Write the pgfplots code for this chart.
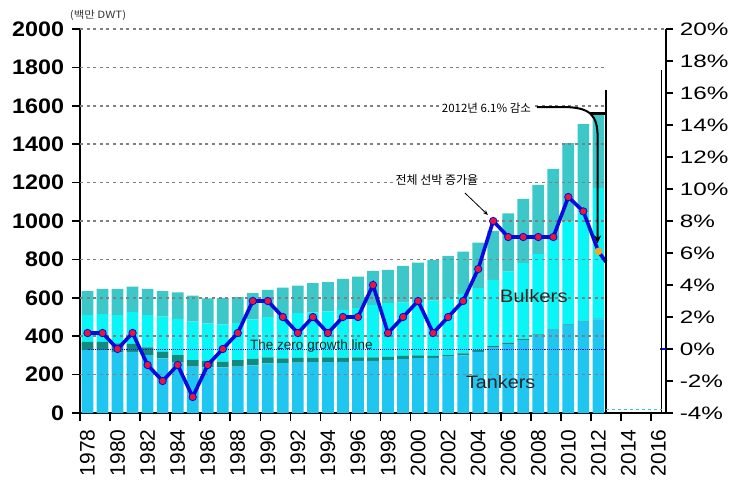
\documentclass[border=0pt]{standalone}
\usepackage{fontspec}
\setmainfont{Liberation Sans}
\newfontfamily\kr{Noto Sans CJK KR}
\usepackage{pgfplots}
\pgfplotsset{compat=1.18}
\usepackage{pgfplotstable}
\usetikzlibrary{arrows.meta}

\definecolor{tank}{HTML}{1EC6F0}
\definecolor{comb}{HTML}{138A80}
\definecolor{bulk}{HTML}{0AF5F5}
\definecolor{other}{HTML}{3CC8C8}
\definecolor{lineblue}{HTML}{0A0ADC}
\definecolor{mk}{HTML}{E8163C}
\definecolor{orng}{HTML}{F5A623}
\definecolor{gridgray}{HTML}{808080}

\pgfplotstableread{
year T C B O
1978 328 43 139 125
1979 328 43 144 131
1980 319 44 147 136
1981 319 41 165 133
1982 302 40 168 136
1983 285 34 183 133
1984 262 40 188 138
1985 241 35 200 135
1986 238 34 193 132
1987 238 29 195 138
1988 241 35 192 135
1989 248 34 205 138
1990 259 31 210 141
1991 260 25 225 143
1992 262 25 233 143
1993 265 24 235 153
1994 265 25 239 153
1995 266 23 248 161
1996 271 19 256 164
1997 272 18 273 177
1998 275 17 280 173
1999 281 16 278 191
2000 286 14 278 205
2001 287 10 288 212
2002 293 9 298 219
2003 300 10 310 220
2004 318 9 324 236
2005 340 8 345 255
2006 360 6 370 304
2007 380 5 395 335
2008 406 4 418 360
2009 434 3 463 371
2010 459 3 535 408
2011 476 3 566 460
2012 487 3 683 393
}\fleet

\pgfplotstableread{
year g
1978 1
1979 1
1980 0
1981 1
1982 -1
1983 -2
1984 -1
1985 -3
1986 -1
1987 0
1988 1
1989 3
1990 3
1991 2
1992 1
1993 2
1994 1
1995 2
1996 2
1997 4
1998 1
1999 2
2000 3
2001 1
2002 2
2003 3
2004 5
2005 8
2006 7
2007 7
2008 7
2009 7
2010 9.5
2011 8.6
}\growth

\begin{document}
\begin{tikzpicture}
\begin{axis}[
  scale only axis, width=586pt, height=384pt,
  xmin=1977.5, xmax=2016.5, ymin=0, ymax=2000,
  axis x line=bottom, axis y line=left,
  axis line style={-, line width=2pt, black},
  tick align=outside, major tick length=8pt,
  tick style={black, line width=1.6pt},
  xtick={1977.5,1979.5,1981.5,1983.5,1985.5,1987.5,1989.5,1991.5,1993.5,1995.5,1997.5,1999.5,2001.5,2003.5,2005.5,2007.5,2009.5,2011.5,2013.5,2015.5},
  xticklabels={},
  extra x ticks={1978,1980,1982,1984,1986,1988,1990,1992,1994,1996,1998,2000,2002,2004,2006,2008,2010,2012,2014,2016},
  extra x tick labels={1978,1980,1982,1984,1986,1988,1990,1992,1994,1996,1998,2000,2002,2004,2006,2008,2010,2012,2014,2016},
  extra x tick style={tick style={draw=none}},
  xticklabel shift=5pt,
  xticklabel style={rotate=90, anchor=east, font=\fontsize{21}{21}\selectfont},
  ytick={0,200,400,600,800,1000,1200,1400,1600,1800,2000},
  yticklabels={0,200,400,600,800,1000,1200,1400,1600,1800,2000},
  yticklabel shift=4pt,
  yticklabel style={font=\fontsize{21}{21}\selectfont\bfseries, xscale=1.11},
  ybar stacked, bar width=11.7pt,
  clip=false,
]
\foreach \v in {200,400,...,1800}{
  \edef\tmp{\noexpand\draw[gridgray, line width=1.6pt, dash pattern=on 3pt off 3.6pt] (axis cs:1977.5,\v) -- (axis cs:2012.5,\v);}\tmp
}
\draw[gridgray, line width=1.6pt, dash pattern=on 3pt off 3.6pt] (axis cs:1977.5,2000) -- (axis cs:2016.5,2000);
\addplot[fill=tank, draw=none] table[x=year, y=T] {\fleet};
\addplot[fill=comb, draw=none] table[x=year, y=C] {\fleet};
\addplot[fill=bulk, draw=none] table[x=year, y=B] {\fleet};
\addplot[fill=other, draw=none] table[x=year, y=O] {\fleet};
\coordinate (O) at (rel axis cs:0,0);
\end{axis}

\begin{axis}[
  scale only axis, width=586pt, height=384pt,
  xmin=1977.5, xmax=2016.5, ymin=-4, ymax=20,
  axis x line=none, axis y line=right,
  axis line style={-, line width=2pt, black},
  tick align=outside, major tick length=7pt,
  tick style={black, line width=1.6pt},
  ytick={-4,-2,0,2,4,6,8,10,12,14,16,18,20},
  yticklabels={-4\%,-2\%,0\%,2\%,4\%,6\%,8\%,10\%,12\%,14\%,16\%,18\%,20\%},
  yticklabel shift=2pt,
  yticklabel style={font=\fontsize{18}{18}\selectfont, xscale=1.35},
  clip=false,
]
% zero growth line
\addplot[lineblue, line width=0.9pt, densely dotted] coordinates {(1978,0) (2012.5,0)};
\draw[lineblue, line width=1.2pt] (axis cs:2016.1,0) -- (axis cs:2016.5,0);
\node[anchor=base, font=\fontsize{13.5}{14}\selectfont, text=black!85] at (axis cs:1992.9,-0.06) {The zero growth line};
% growth line
\addplot[lineblue, line width=3.6pt] coordinates {(2011,8.6) (2012,6.1) (2012.5,5.45)};
\addplot[lineblue, line width=3.6pt, mark=*, mark size=3.7pt,
  mark options={fill=mk, draw=lineblue, line width=0.8pt}] table[x=year, y=g] {\growth};
\addplot[only marks, mark=*, mark size=3.6pt, mark options={fill=orng, draw=orng}] coordinates {(2012,6.1)};
% labels
\node[anchor=base, font=\fontsize{18}{18}\selectfont, xscale=1.13, text=black!85] at (axis cs:2007.7,2.9) {Bulkers};
\node[anchor=base, font=\fontsize{18}{18}\selectfont, xscale=1.1, text=black!85] at (axis cs:2005.5,-2.46) {Tankers};
% vertical lines
\draw[black, line width=1.5pt] (axis cs:2012.5,16.19) -- (axis cs:2012.5,-4);
\draw[black, line width=3pt] (axis cs:2011.43,14.75) -- (axis cs:2012.5,14.75);
\draw[black, line width=1.2pt] (axis cs:2016.22,17.44) -- (axis cs:2016.22,-4);
\draw[other, line width=1pt, dashed] (axis cs:2012.5,-3.81) -- (axis cs:2016.22,-3.81);
% annotations
\node[fill=white, inner sep=1pt, font={\kr\fontsize{12}{12}\selectfont}] at (axis cs:2001.25,10.56) {전체 선박 증가율};
\draw[black, line width=0.8pt, -{Stealth[length=5pt, width=4pt]}] (axis cs:2003.12,9.75) -- (axis cs:2004.65,8.375);
\node[fill=white, inner sep=1pt, font={\kr\fontsize{11.5}{12}\selectfont}] at (axis cs:2004.55,15.06) {2012년 6.1\% 감소};
\draw[black, line width=2pt, -{Stealth[length=8pt, width=7pt]}] (axis cs:2007.91,15.125) -- (axis cs:2009.6,15.125) .. controls (axis cs:2011.5,15.125) and (axis cs:2011.95,14.6) .. (axis cs:2011.95,13.2) -- (axis cs:2011.95,6.6);
\node[font={\kr\fontsize{10}{10}\selectfont}, xscale=1.15, text=black!80] at (axis cs:1978.7,20.875) {(백만 DWT)};
\end{axis}
\pgfresetboundingbox
\useasboundingbox (O) ++(-80pt,-78pt) rectangle ++(747pt,491pt);
\end{tikzpicture}
\end{document}
